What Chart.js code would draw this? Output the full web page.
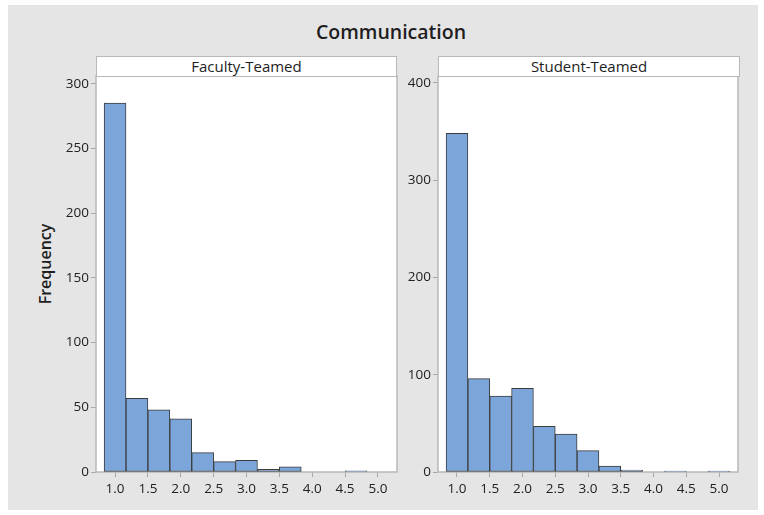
<!DOCTYPE html>
<html>
<head>
<meta charset="utf-8">
<script src="https://cdn.jsdelivr.net/npm/chart.js@4/dist/chart.umd.min.js"></script>
<style>
  html, body { margin: 0; padding: 0; background: #ffffff; }
  body { width: 764px; height: 515px; position: relative; overflow: hidden; font-family: "Open Sans", "Noto Sans", sans-serif; }
  #bg { position: absolute; left: 8px; top: 5px; width: 750px; height: 505px; background: #e5e5e5; }
  #title { position: absolute; left: 8px; width: 766px; top: 18px; text-align: center; font-size: 19.5px; font-weight: 600; color: #1e1e1e; }
  #ylab { position: absolute; left: 45px; top: 264px; transform: translate(-50%, -50%) rotate(-90deg); font-size: 16px; font-weight: 600; color: #1e1e1e; white-space: nowrap; }
  .strip { position: absolute; top: 56px; height: 21px; box-sizing: border-box; background: #fff; border: 1.5px solid #b8b8b8; text-align: center; font-size: 15px; line-height: 18px; color: #1e1e1e; }
  canvas { position: absolute; }
  .wrap { position: absolute; top: 50px; width: 350px; height: 450px; }
</style>
</head>
<body>
<div id="bg"></div>
<div id="title">Communication</div>
<div id="ylab">Frequency</div>
<div class="wrap" id="w1" style="left:56px"><canvas id="c1"></canvas></div>
<div class="wrap" id="w2" style="left:398px"><canvas id="c2"></canvas></div>
<div class="strip" style="left:96px; width:301px;">Faculty-Teamed</div>
<div class="strip" style="left:438px; width:302px;">Student-Teamed</div>
<script>
const binCenters = [1.0, 1.3333, 1.6667, 2.0, 2.3333, 2.6667, 3.0, 3.3333, 3.6667, 4.0, 4.3333, 4.6667, 5.0];
const facultyCounts = [285, 57, 48, 41, 15, 8, 9, 2, 4, 0, 0, 1, 0];
const studentCounts = [348, 96, 78, 86, 47, 39, 22, 6, 2, 0, 1, 0, 1];
const panelTitles = ["Faculty-Teamed", "Student-Teamed"];
const xTickStep = 0.5;
const facultyYMax = 306, facultyYStep = 50;
const studentYMax = 407, studentYStep = 100;

const framePlugin = {
  id: 'frame',
  beforeDatasetsDraw(chart) {
    const a = chart.chartArea, ctx = chart.ctx;
    ctx.save();
    ctx.strokeStyle = '#b8b8b8';
    ctx.lineWidth = 1.5;
    ctx.fillStyle = '#ffffff';
    ctx.fillRect(a.left, a.top, a.right - a.left, a.bottom - a.top);
    ctx.strokeRect(a.left, a.top, a.right - a.left, a.bottom - a.top);
    ctx.restore();
  }
};

function makeChart(id, counts, yMax, yStep, padRight) {
  const fontSpec = { family: '"Open Sans", "Noto Sans", sans-serif', size: 13.5 };
  return new Chart(document.getElementById(id), {
    type: 'bar',
    data: {
      datasets: [{
        data: binCenters.map((x, i) => ({ x: x, y: counts[i] })),
        backgroundColor: '#7ca6da',
        borderColor: '#3c3c3c',
        borderWidth: 1,
        borderSkipped: false,
        barPercentage: 1,
        categoryPercentage: 1
      }]
    },
    options: {
      responsive: true,
      maintainAspectRatio: false,
      animation: false,
      layout: { padding: { top: 26, right: padRight, left: 0, bottom: 0 } },
      plugins: { legend: { display: false }, tooltip: { enabled: false }, title: { display: false } },
      scales: {
        x: {
          type: 'linear',
          offset: false,
          min: 0.71,
          max: 5.29,
          afterFit(s) { s.height = 28; },
          grid: { display: true, drawOnChartArea: false, drawTicks: true, tickLength: 5, color: '#a8a8a8', offset: false },
          border: { display: false },
          ticks: {
            stepSize: xTickStep,
            includeBounds: false,
            padding: 4,
            color: '#222',
            font: fontSpec,
            maxRotation: 0,
            callback: v => Number(v).toFixed(1)
          }
        },
        y: {
          beginAtZero: true,
          max: yMax,
          afterFit(s) { s.width = 40; },
          grid: { display: true, drawOnChartArea: false, drawTicks: true, tickLength: 5, color: '#a8a8a8' },
          border: { display: false },
          ticks: { stepSize: yStep, includeBounds: false, padding: 2, color: '#222', font: fontSpec }
        }
      }
    },
    plugins: [framePlugin]
  });
}

makeChart('c1', facultyCounts, facultyYMax, facultyYStep, 9);
makeChart('c2', studentCounts, studentYMax, studentYStep, 10);
</script>
</body>
</html>
